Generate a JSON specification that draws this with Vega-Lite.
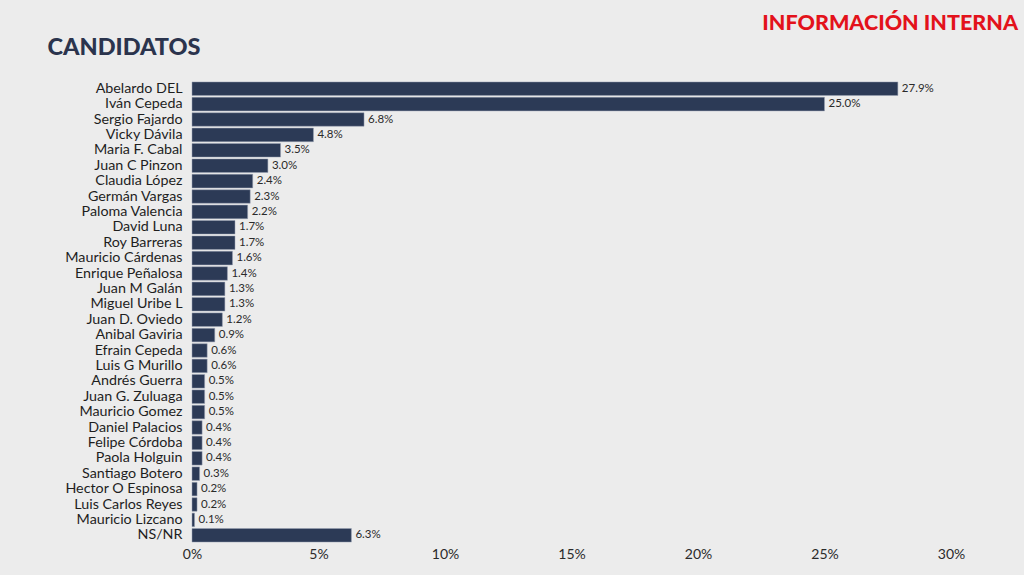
{
  "$schema": "https://vega.github.io/schema/vega-lite/v6.json",
  "autosize": "none",
  "width": 759,
  "height": 462,
  "padding": {"left": 192, "top": 81, "right": 73, "bottom": 32},
  "background": "#ececec",
  "config": {"view": {"stroke": null}, "font": "Lato"},
  "title": {
    "text": "INFORMACIÓN INTERNA",
    "anchor": "end",
    "frame": "group",
    "dx": 67,
    "offset": 1,
    "fontSize": 21.5,
    "fontWeight": 900,
    "font": "Lato",
    "color": "#e3121b"
  },
  "data": {
    "values": [
      {"candidato": "Abelardo DEL", "pct": 0.279},
      {"candidato": "Iván Cepeda", "pct": 0.250},
      {"candidato": "Sergio Fajardo", "pct": 0.068},
      {"candidato": "Vicky Dávila", "pct": 0.048},
      {"candidato": "Maria F. Cabal", "pct": 0.035},
      {"candidato": "Juan C Pinzon", "pct": 0.030},
      {"candidato": "Claudia López", "pct": 0.024},
      {"candidato": "Germán Vargas", "pct": 0.023},
      {"candidato": "Paloma Valencia", "pct": 0.022},
      {"candidato": "David Luna", "pct": 0.017},
      {"candidato": "Roy Barreras", "pct": 0.017},
      {"candidato": "Mauricio Cárdenas", "pct": 0.016},
      {"candidato": "Enrique Peñalosa", "pct": 0.014},
      {"candidato": "Juan M Galán", "pct": 0.013},
      {"candidato": "Miguel Uribe L", "pct": 0.013},
      {"candidato": "Juan D. Oviedo", "pct": 0.012},
      {"candidato": "Anibal Gaviria", "pct": 0.009},
      {"candidato": "Efrain Cepeda", "pct": 0.006},
      {"candidato": "Luis G Murillo", "pct": 0.006},
      {"candidato": "Andrés Guerra", "pct": 0.005},
      {"candidato": "Juan G. Zuluaga", "pct": 0.005},
      {"candidato": "Mauricio Gomez", "pct": 0.005},
      {"candidato": "Daniel Palacios", "pct": 0.004},
      {"candidato": "Felipe Córdoba", "pct": 0.004},
      {"candidato": "Paola Holguin", "pct": 0.004},
      {"candidato": "Santiago Botero", "pct": 0.003},
      {"candidato": "Hector O Espinosa", "pct": 0.002},
      {"candidato": "Luis Carlos Reyes", "pct": 0.002},
      {"candidato": "Mauricio Lizcano", "pct": 0.001},
      {"candidato": "NS/NR", "pct": 0.063}
    ]
  },
  "encoding": {
    "y": {
      "field": "candidato",
      "type": "nominal",
      "sort": null,
      "scale": {"paddingInner": 0.12, "paddingOuter": 0.06},
      "axis": {
        "title": "CANDIDATOS",
        "titleAngle": 0,
        "titleX": -145,
        "titleY": -34,
        "titleAlign": "left",
        "titleBaseline": "middle",
        "titleFont": "Lato",
        "titleFontSize": 23.5,
        "titleFontWeight": 900,
        "titleColor": "#2b344d",
        "domain": false,
        "ticks": false,
        "labelPadding": 10,
        "labelFontSize": 14.3,
        "labelColor": "#1e1e1e",
        "labelFont": "Lato"
      }
    },
    "x": {
      "field": "pct",
      "type": "quantitative",
      "scale": {"domain": [0, 0.3], "nice": false},
      "axis": {
        "title": null,
        "format": ".0%",
        "values": [0, 0.05, 0.1, 0.15, 0.2, 0.25, 0.3],
        "grid": false,
        "domain": false,
        "ticks": false,
        "labelFlush": false,
        "labelPadding": 4,
        "labelFontSize": 14,
        "labelColor": "#2a2a2a",
        "labelFont": "Lato",
        "labelBaseline": "top"
      }
    }
  },
  "layer": [
    {
      "mark": {"type": "bar", "color": "#2c3a56", "stroke": "#9aa3b5", "strokeWidth": 0.5}
    },
    {
      "mark": {"type": "text", "align": "left", "dx": 4, "fontSize": 11.5, "color": "#2a2a2a", "font": "Lato"},
      "encoding": {"text": {"field": "pct", "type": "quantitative", "format": ".1%"}}
    }
  ]
}
